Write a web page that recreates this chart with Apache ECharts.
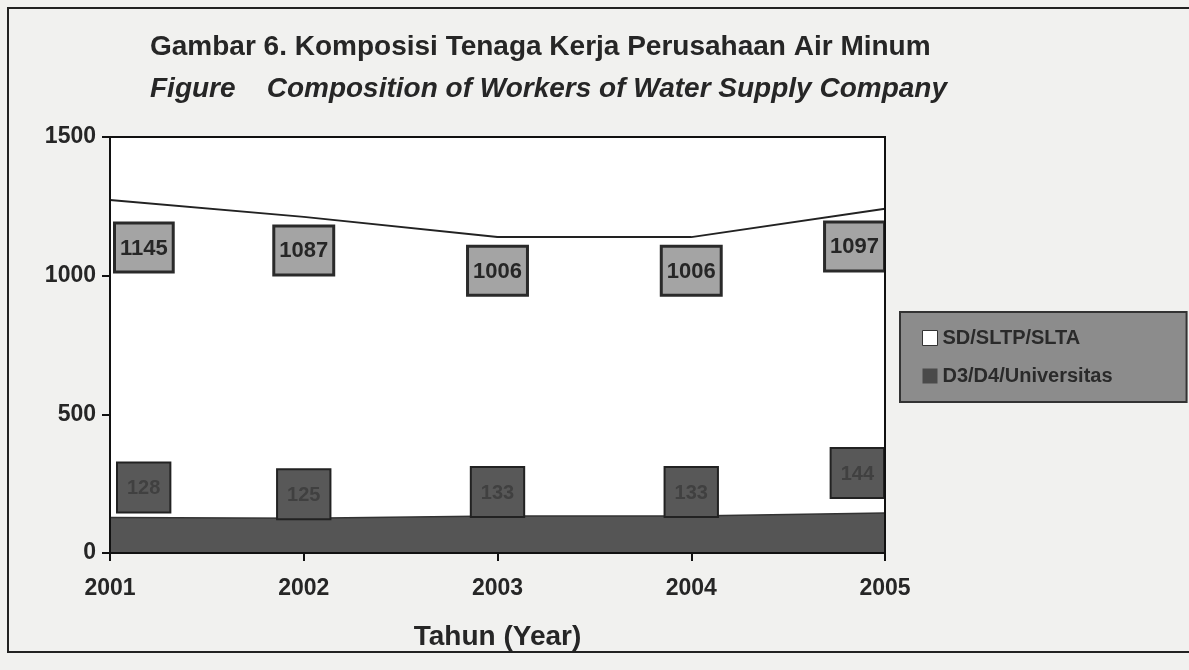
<!DOCTYPE html>
<html>
<head>
<meta charset="utf-8">
<script src="https://cdn.jsdelivr.net/npm/echarts@6/dist/echarts.min.js"></script>
<style>
  html, body { margin: 0; padding: 0; background: #f1f1ef; }
  #chart { width: 1189px; height: 670px; }
</style>
</head>
<body>
<div id="chart"></div>
<script>
// data
var years = ['2001', '2002', '2003', '2004', '2005'];
var sdSltpSlta = [1145, 1087, 1006, 1006, 1097];
var d3d4Univ = [128, 125, 133, 133, 144];
var yTicks = [0, 500, 1000, 1500];

var myChart = echarts.init(document.getElementById('chart'));

var FONT = '"Liberation Sans", Arial, sans-serif';

// label alignment for the end points
function topLabel(v, i) {
    var lab = {};
    if (i === 0) { lab.align = 'left'; lab.offset = [6, 14]; }
    if (i === years.length - 1) { lab.align = 'right'; lab.offset = [-2, 4]; }
    return { value: v, label: lab };
}
function botLabel(v, i) {
    var lab = {};
    if (i === 0) { lab.align = 'left'; lab.offset = [8, -6]; }
    if (i === years.length - 1) { lab.align = 'right'; lab.offset = [-2, -16]; }
    return { value: v, label: lab };
}

option = {
    backgroundColor: '#f1f1ef',
    textStyle: { fontFamily: FONT },
    title: [
        {
            text: 'Gambar 6. Komposisi Tenaga Kerja Perusahaan Air Minum',
            left: 145, top: 28,
            textStyle: { fontFamily: FONT, fontSize: 28, fontWeight: 'bold', color: '#262626' }
        },
        {
            text: 'Figure    Composition of Workers of Water Supply Company',
            left: 145, top: 70,
            textStyle: { fontFamily: FONT, fontSize: 28, fontWeight: 'bold', fontStyle: 'italic', color: '#262626' }
        }
    ],
    legend: {
        orient: 'vertical',
        left: 900, top: 312,
        padding: [16, 74, 16, 22],
        itemGap: 18,
        itemWidth: 15, itemHeight: 15,
        backgroundColor: '#8c8c8c',
        borderColor: '#333',
        borderWidth: 2,
        data: [
            { name: 'SD/SLTP/SLTA', icon: 'rect', itemStyle: { color: '#ffffff', borderColor: '#333', borderWidth: 1 } },
            { name: 'D3/D4/Universitas', icon: 'rect', itemStyle: { color: '#4a4a4a' } }
        ],
        textStyle: { fontFamily: FONT, fontSize: 20, fontWeight: 'bold', color: '#2a2a2a' }
    },
    grid: { left: 110, right: 304, top: 137, bottom: 117, show: true, backgroundColor: '#ffffff', borderWidth: 0 },
    xAxis: {
        type: 'category',
        data: years,
        boundaryGap: false,
        name: 'Tahun (Year)',
        nameLocation: 'middle',
        nameGap: 70,
        nameTextStyle: { fontFamily: FONT, fontSize: 28, fontWeight: 'bold', color: '#262626' },
        axisLine: { lineStyle: { color: '#111', width: 2 } },
        axisTick: { show: true, length: 8, lineStyle: { color: '#111', width: 2 } },
        axisLabel: { fontFamily: FONT, fontSize: 23, fontWeight: 'bold', color: '#262626', margin: 24 },
        splitLine: { show: false }
    },
    yAxis: {
        type: 'value',
        min: yTicks[0],
        max: yTicks[yTicks.length - 1],
        interval: 500,
        axisLine: { show: true, lineStyle: { color: '#111', width: 2 } },
        axisTick: { show: true, length: 8, lineStyle: { color: '#111', width: 2 } },
        axisLabel: { fontFamily: FONT, fontSize: 23, fontWeight: 'bold', color: '#262626', margin: 14, formatter: function (v) { return String(v); } },
        splitLine: { show: false }
    },
    graphic: [
        // plot frame (top and right)
        { type: 'rect', shape: { x: 110, y: 137, width: 775, height: 416 }, style: { fill: null, stroke: '#111', lineWidth: 2 }, z: 10, silent: true },
        // outer page border
        { type: 'rect', shape: { x: 8, y: 8, width: 1200, height: 644 }, style: { fill: null, stroke: '#222', lineWidth: 2 }, silent: true }
    ],
    series: [
        {
            name: 'D3/D4/Universitas',
            type: 'line',
            stack: 'total',
            data: d3d4Univ.map(botLabel),
            symbol: 'circle',
            symbolSize: 0.1,
            showSymbol: true,
            lineStyle: { color: '#333', width: 1.5 },
            itemStyle: { color: '#4a4a4a' },
            areaStyle: { color: '#555555', opacity: 1 },
            label: {
                show: true,
                position: 'top',
                distance: 0,
                fontFamily: FONT, fontSize: 20, fontWeight: 'bold',
                color: '#404040',
                backgroundColor: '#585858',
                borderColor: '#222', borderWidth: 2,
                padding: [15, 9, 13, 9]
            },
            z: 3
        },
        {
            name: 'SD/SLTP/SLTA',
            type: 'line',
            stack: 'total',
            data: sdSltpSlta.map(topLabel),
            symbol: 'circle',
            symbolSize: 0.1,
            showSymbol: true,
            lineStyle: { color: '#222', width: 2 },
            itemStyle: { color: '#ffffff', borderColor: '#333' },
            areaStyle: { color: '#ffffff', opacity: 1 },
            label: {
                show: true,
                position: 'bottom',
                distance: 10,
                fontFamily: FONT, fontSize: 22, fontWeight: 'bold',
                color: '#262626',
                backgroundColor: '#a4a4a4',
                borderColor: '#2a2a2a', borderWidth: 3,
                padding: [13, 4, 11, 4]
            },
            z: 2
        }
    ]
};

myChart.setOption(option);
</script>
</body>
</html>
